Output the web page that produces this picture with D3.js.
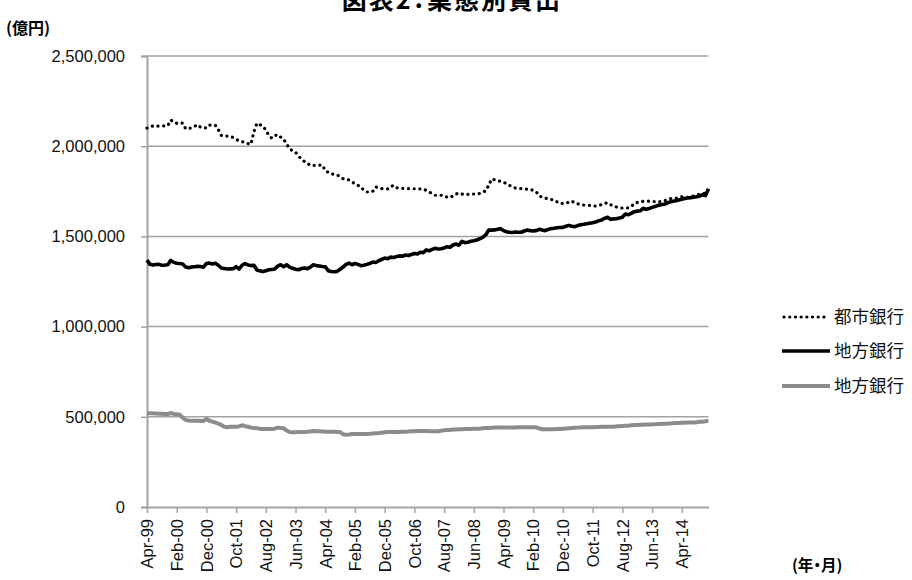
<!DOCTYPE html>
<html>
<head>
<meta charset="utf-8">
<script src="https://cdn.jsdelivr.net/npm/d3@7"></script>
<style>
  html, body { margin: 0; padding: 0; background: #fff; }
  svg { display: block; }
  .lat { font-family: "Liberation Sans", Arial, sans-serif; }
  .jp { font-family: "Noto Sans CJK JP", sans-serif; }
</style>
</head>
<body>
<svg id="chart" width="912" height="580"></svg>
<script>
// Monthly lending balances (億円), April 1999 – January 2015
const months = d3.timeMonth.range(new Date(1999, 3, 1), new Date(2015, 1, 1));
const fmtMonth = d3.timeFormat("%b-%y");
const categories = months.map(fmtMonth);

const tickLabels = ["Apr-99","Feb-00","Dec-00","Oct-01","Aug-02","Jun-03","Apr-04","Feb-05",
  "Dec-05","Oct-06","Aug-07","Jun-08","Apr-09","Feb-10","Dec-10","Oct-11","Aug-12","Jun-13","Apr-14"];
const yTicks = [0, 500000, 1000000, 1500000, 2000000, 2500000];

const seriesNames = ["都市銀行", "地方銀行", "地方銀行"];

const cityBanks = [
  2100000,2108000,2112000,2113000,2111000,2113000,2112000,2114000,2145000,2135000,
  2127000,2130000,2128000,2097000,2100000,2101000,2110000,2119000,2105000,2103000,
  2101000,2117000,2115000,2116000,2092000,2060000,2056000,2056000,2052000,2049000,
  2038000,2030000,2025000,2022000,2015000,2011000,2080000,2127000,2120000,2110000,
  2090000,2060000,2045000,2058000,2064000,2050000,2038000,2012000,1985000,1975000,
  1966000,1945000,1929000,1915000,1905000,1894000,1893000,1894000,1895000,1896000,
  1866000,1855000,1846000,1844000,1842000,1830000,1820000,1817000,1813000,1802000,
  1792000,1783000,1774000,1755000,1746000,1747000,1750000,1774000,1770000,1765000,
  1764000,1763000,1775000,1783000,1770000,1767000,1766000,1765000,1765000,1765000,
  1764000,1763000,1763000,1763000,1755000,1746000,1737000,1728000,1728000,1728000,
  1722000,1718000,1715000,1725000,1735000,1740000,1735000,1731000,1733000,1735000,
  1735000,1735000,1738000,1745000,1752000,1783000,1818000,1814000,1809000,1805000,
  1801000,1792000,1783000,1775000,1768000,1767000,1765000,1763000,1762000,1761000,
  1755000,1748000,1725000,1717000,1712000,1709000,1705000,1702000,1692000,1683000,
  1683000,1683000,1690000,1696000,1685000,1681000,1677000,1674000,1673000,1672000,
  1670000,1668000,1672000,1676000,1682000,1687000,1676000,1668000,1663000,1659000,
  1657000,1656000,1658000,1665000,1683000,1688000,1692000,1694000,1696000,1695000,
  1694000,1693000,1691000,1693000,1696000,1703000,1709000,1710000,1711000,1716000,
  1720000,1718000,1717000,1721000,1724000,1729000,1733000,1737000,1740000,1745000
];

const regionalBanks = [
  1369000,1345000,1341000,1344000,1345000,1340000,1341000,1343000,1367000,1356000,
  1351000,1350000,1347000,1330000,1326000,1330000,1332000,1334000,1333000,1329000,
  1350000,1352000,1347000,1351000,1340000,1325000,1322000,1319000,1320000,1321000,
  1332000,1319000,1340000,1349000,1342000,1338000,1340000,1314000,1309000,1306000,
  1310000,1315000,1317000,1319000,1335000,1343000,1332000,1343000,1330000,1323000,
  1318000,1315000,1322000,1325000,1321000,1330000,1343000,1338000,1336000,1333000,
  1332000,1310000,1305000,1304000,1306000,1318000,1330000,1345000,1352000,1343000,
  1350000,1345000,1338000,1340000,1345000,1350000,1358000,1355000,1365000,1372000,
  1380000,1376000,1385000,1383000,1388000,1392000,1390000,1397000,1394000,1400000,
  1405000,1402000,1412000,1410000,1425000,1420000,1428000,1434000,1430000,1432000,
  1436000,1443000,1440000,1452000,1458000,1451000,1473000,1465000,1468000,1473000,
  1476000,1480000,1487000,1495000,1508000,1535000,1535000,1536000,1540000,1543000,
  1532000,1526000,1523000,1522000,1524000,1523000,1523000,1530000,1535000,1532000,
  1530000,1532000,1539000,1535000,1532000,1538000,1543000,1545000,1548000,1549000,
  1550000,1556000,1561000,1556000,1554000,1560000,1565000,1567000,1570000,1573000,
  1576000,1580000,1586000,1591000,1600000,1606000,1595000,1597000,1598000,1602000,
  1606000,1624000,1620000,1628000,1637000,1640000,1642000,1656000,1650000,1655000,
  1661000,1666000,1672000,1675000,1678000,1684000,1691000,1695000,1698000,1702000,
  1706000,1710000,1713000,1715000,1717000,1720000,1724000,1731000,1726000,1764000
];

const secondRegionalBanks = [
  520000,519000,519000,518000,517000,517000,515000,515000,521000,516000,
  514000,512000,495000,482000,479000,478000,478000,478000,477000,477000,
  488000,478000,473000,468000,462000,455000,445000,442000,445000,445000,
  445000,447000,453000,448000,445000,440000,438000,436000,434000,433000,
  432000,432000,433000,434000,440000,438000,436000,424000,416000,414000,
  415000,416000,416000,416000,417000,419000,421000,420000,420000,419000,
  417000,417000,417000,417000,416000,416000,403000,401000,402000,405000,
  405000,405000,405000,405000,405000,406000,408000,409000,410000,412000,
  414000,416000,416000,416000,416000,416000,417000,417000,418000,420000,
  420000,421000,421000,421000,421000,420000,420000,420000,420000,423000,
  425000,427000,427000,429000,430000,431000,431000,432000,432000,433000,
  434000,434000,434000,436000,438000,438000,439000,440000,440000,440000,
  440000,440000,440000,441000,441000,442000,442000,442000,442000,442000,
  442000,442000,436000,431000,431000,431000,431000,431000,432000,433000,
  434000,435000,436000,438000,439000,440000,441000,442000,442000,442000,
  442000,443000,444000,445000,445000,445000,445000,445000,447000,448000,
  449000,450000,451000,453000,454000,455000,456000,456000,457000,458000,
  458000,459000,460000,460000,461000,462000,463000,464000,465000,466000,
  467000,467000,468000,469000,469000,470000,472000,473000,475000,478000
];

const svg = d3.select("#chart");
const plot = { left: 147, right: 708.5, top: 56, bottom: 507 };
const gridColor = "#a3a3a3";

const x = d3.scalePoint().domain(categories).range([plot.left, plot.right]);
const y = d3.scaleLinear().domain([0, 2500000]).range([plot.bottom, plot.top]);

// horizontal gridlines
svg.append("g")
  .selectAll("line")
  .data(yTicks.filter(d => d > 0))
  .join("line")
  .attr("x1", plot.left).attr("x2", plot.right)
  .attr("y1", d => y(d)).attr("y2", d => y(d))
  .attr("stroke", gridColor).attr("stroke-width", 1.5);

// y axis
const yAxis = svg.append("g")
  .attr("transform", `translate(${plot.left},0)`)
  .call(d3.axisLeft(y).tickValues(yTicks).tickSize(6).tickPadding(16)
    .tickFormat(d3.format(",")));
yAxis.select(".domain").attr("stroke", gridColor).attr("stroke-width", 2);
yAxis.selectAll(".tick line").attr("stroke", gridColor).attr("stroke-width", 1.5);
yAxis.selectAll(".tick text")
  .attr("class", "lat").attr("font-size", 16.5).attr("fill", "#111");

// x axis
const xAxis = svg.append("g")
  .attr("transform", `translate(0,${plot.bottom})`)
  .call(d3.axisBottom(x).tickValues(tickLabels).tickSize(6).tickSizeOuter(0).tickPadding(0));
xAxis.select(".domain").attr("stroke", gridColor).attr("stroke-width", 2);
xAxis.selectAll(".tick line").attr("stroke", gridColor).attr("stroke-width", 1.5);
xAxis.selectAll(".tick text")
  .attr("class", "lat").attr("font-size", 16.5).attr("fill", "#111")
  .attr("text-anchor", "end")
  .attr("transform", "rotate(-90)")
  .attr("x", -12).attr("y", 0).attr("dy", "0.35em");

// series lines
const lineGen = vals => d3.line()
  .x((d, i) => x(categories[i]))
  .y(d => y(d))(vals);

const styles = [
  { stroke: "#000", width: 3.2, dash: "0.1 5.6", cap: "round" },
  { stroke: "#000", width: 3.6, dash: null, cap: "butt" },
  { stroke: "#8c8c8c", width: 4, dash: null, cap: "butt" }
];
const allSeries = [secondRegionalBanks, regionalBanks, cityBanks];
const styleOrder = [2, 1, 0];

allSeries.forEach((vals, k) => {
  const s = styles[styleOrder[k]];
  svg.append("path")
    .attr("d", lineGen(vals))
    .attr("fill", "none")
    .attr("stroke", s.stroke)
    .attr("stroke-width", s.width)
    .attr("stroke-linejoin", "round")
    .attr("stroke-linecap", s.cap)
    .attr("stroke-dasharray", s.dash);
});

// legend
const legend = svg.append("g");
const legendY = [317, 351, 386];
seriesNames.forEach((name, i) => {
  const s = styles[i];
  const g = legend.append("g").attr("transform", `translate(0,${legendY[i]})`);
  g.append("line")
    .attr("x1", i === 0 ? 784 : 782).attr("x2", i === 0 ? 827 : 830)
    .attr("y1", 0).attr("y2", 0)
    .attr("stroke", s.stroke)
    .attr("stroke-width", s.width)
    .attr("stroke-linecap", s.cap)
    .attr("stroke-dasharray", s.dash);
  g.append("text")
    .attr("class", "jp")
    .attr("x", 834).attr("y", 0).attr("dy", "0.36em")
    .attr("font-size", 17.5).attr("fill", "#111")
    .text(name);
});

// titles
svg.append("text")
  .attr("class", "jp")
  .attr("x", 452).attr("y", 9)
  .attr("text-anchor", "middle")
  .attr("font-size", 25).attr("font-weight", "bold")
  .attr("letter-spacing", 2)
  .style("font-feature-settings", "'palt'")
  .text("図表2：業態別貸出");

svg.append("text")
  .attr("class", "jp")
  .attr("x", 6).attr("y", 34)
  .attr("font-size", 16).attr("font-weight", "bold")
  .style("font-feature-settings", "'palt'")
  .text("(億円)");

svg.append("text")
  .attr("class", "jp")
  .attr("x", 792).attr("y", 571)
  .attr("font-size", 15.5).attr("font-weight", "bold")
  .style("font-feature-settings", "'palt'")
  .text("(年・月)");
</script>
</body>
</html>
